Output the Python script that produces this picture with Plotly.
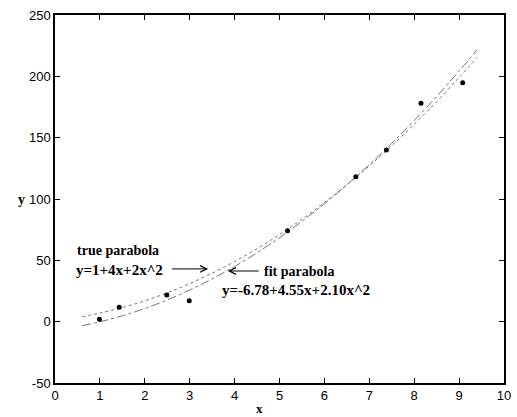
import plotly.graph_objects as go

# Measured data points
data_x = [0.99, 1.43, 2.49, 2.99, 5.18, 6.70, 7.38, 8.15, 9.08]
data_y = [2.0, 11.7, 21.8, 17.1, 74.2, 118.2, 140.0, 178.0, 194.8]

# Curve samples
curve_x = [0.6, 1.0, 1.5, 2.0, 2.5, 3.0, 3.5, 4.0, 4.5, 5.0, 5.5, 6.0, 6.5, 7.0, 7.5, 8.0, 8.5, 9.0, 9.4]
true_y = [4.1, 7.0, 11.5, 17.0, 23.5, 31.0, 39.5, 49.0, 59.5, 71.0, 83.5, 97.0, 111.5, 127.0, 143.5, 161.0, 179.5, 199.0, 215.3]
fit_y = [-3.3, -0.1, 4.8, 10.7, 17.7, 25.8, 34.9, 45.0, 56.2, 68.5, 81.8, 96.1, 111.5, 128.0, 145.5, 164.0, 183.6, 204.3, 221.6]

x_ticks = [0, 1, 2, 3, 4, 5, 6, 7, 8, 9, 10]
y_ticks = [-50, 0, 50, 100, 150, 200, 250]
y_tick_text = ["-50", "0", "50", "100", "150", "200", "250"]

fig = go.Figure()
fig.add_trace(go.Scatter(x=curve_x, y=true_y, mode="lines", line=dict(color="#777", width=1, dash="dot", shape="spline"), showlegend=False))
fig.add_trace(go.Scatter(x=curve_x, y=fit_y, mode="lines", line=dict(color="#777", width=1, dash="dashdot", shape="spline"), showlegend=False))
fig.add_trace(go.Scatter(x=data_x, y=data_y, mode="markers", marker=dict(color="black", size=5), showlegend=False))

serif = "Liberation Serif"
fig.update_layout(
    width=517, height=417,
    margin=dict(l=55, r=6, t=15, b=34),
    plot_bgcolor="white", paper_bgcolor="white",
    xaxis=dict(range=[0, 10], tickvals=x_ticks, showgrid=False, zeroline=False,
               showline=True, linecolor="black", linewidth=1.5, mirror="ticks",
               ticks="inside", ticklen=5, tickcolor="black",
               tickfont=dict(family="Liberation Sans", size=13, color="black")),
    yaxis=dict(range=[-50, 250], tickvals=y_ticks, ticktext=y_tick_text, showgrid=False, zeroline=False,
               showline=True, linecolor="black", linewidth=1.5, mirror="ticks",
               ticks="inside", ticklen=5, tickcolor="black",
               tickfont=dict(family="Liberation Sans", size=13, color="black")),
    font=dict(family=serif, color="black"),
)

ann = []
ann.append(dict(text="<b>x</b>", xref="paper", yref="paper", x=0.456, y=-0.07, yanchor="middle", showarrow=False, font=dict(family=serif, size=13)))
ann.append(dict(text="<b>y</b>", xref="paper", yref="paper", x=-0.075, y=0.5, xanchor="center", showarrow=False, font=dict(family=serif, size=14)))
ann.append(dict(text="<b>true parabola</b>", x=0.44, y=58.4, xanchor="left", showarrow=False, font=dict(family=serif, size=14)))
ann.append(dict(text="<b>y=1+4x+2x^2</b>", x=0.42, y=42.1, xanchor="left", showarrow=False, font=dict(family=serif, size=15)))
ann.append(dict(text="<b>fit parabola</b>", x=4.62, y=41.3, xanchor="left", showarrow=False, font=dict(family=serif, size=14)))
ann.append(dict(text="<b>y=-6.78+4.55x+2.10x^2</b>", x=3.67, y=25.8, xanchor="left", showarrow=False, font=dict(family=serif, size=15)))
ann.append(dict(text="", x=3.41, y=43.0, ax=2.57, ay=43.0, axref="x", ayref="y", showarrow=True, arrowhead=5, arrowsize=1.3, arrowwidth=1, arrowcolor="black"))
ann.append(dict(text="", x=3.85, y=41.3, ax=4.57, ay=41.3, axref="x", ayref="y", showarrow=True, arrowhead=5, arrowsize=1.3, arrowwidth=1, arrowcolor="black"))
fig.update_layout(annotations=ann)

fig.write_html("out.html")
